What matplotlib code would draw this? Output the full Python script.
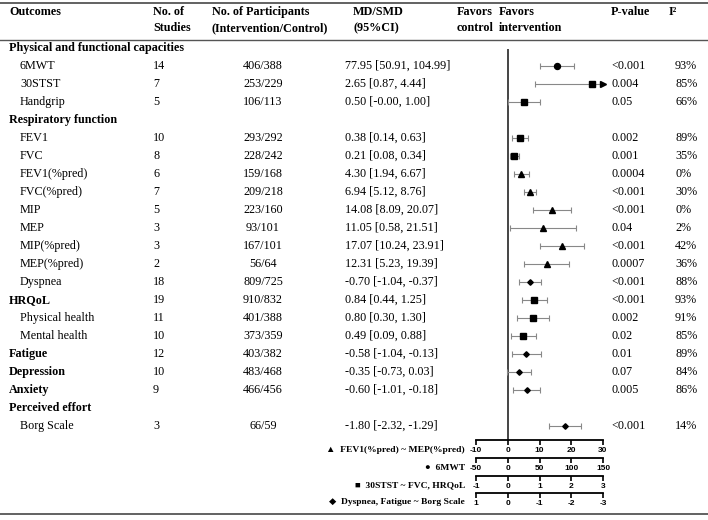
import matplotlib.pyplot as plt

# table data
outcomes = ["Physical and functional capacities", "6MWT", "30STST", "Handgrip",
            "Respiratory function", "FEV1", "FVC", "FEV1(%pred)", "FVC(%pred)",
            "MIP", "MEP", "MIP(%pred)", "MEP(%pred)", "Dyspnea", "HRQoL",
            "Physical health", "Mental health", "Fatigue", "Depression", "Anxiety",
            "Perceived effort", "Borg Scale"]
is_bold = [1, 0, 0, 0, 1, 0, 0, 0, 0, 0, 0, 0, 0, 0, 1, 0, 0, 1, 1, 1, 1, 0]
studies = ["", "14", "7", "5", "", "10", "8", "6", "7", "5", "3", "3", "2", "18",
           "19", "11", "10", "12", "10", "9", "", "3"]
participants = ["", "406/388", "253/229", "106/113", "", "293/292", "228/242",
                "159/168", "209/218", "223/160", "93/101", "167/101", "56/64",
                "809/725", "910/832", "401/388", "373/359", "403/382", "483/468",
                "466/456", "", "66/59"]
effect = [None, 77.95, 2.65, 0.50, None, 0.38, 0.21, 4.30, 6.94, 14.08, 11.05,
          17.07, 12.31, -0.70, 0.84, 0.80, 0.49, -0.58, -0.35, -0.60, None, -1.80]
ci_low = [None, 50.91, 0.87, -0.0, None, 0.14, 0.08, 1.94, 5.12, 8.09, 0.58,
          10.24, 5.23, -1.04, 0.44, 0.30, 0.09, -1.04, -0.73, -1.01, None, -2.32]
ci_high = [None, 104.99, 4.44, 1.00, None, 0.63, 0.34, 6.67, 8.76, 20.07, 21.51,
           23.91, 19.39, -0.37, 1.25, 1.30, 0.88, -0.13, 0.03, -0.18, None, -1.29]
p_values = ["", "<0.001", "0.004", "0.05", "", "0.002", "0.001", "0.0004", "<0.001",
            "<0.001", "0.04", "<0.001", "0.0007", "<0.001", "<0.001", "0.002", "0.02",
            "0.01", "0.07", "0.005", "", "<0.001"]
i2 = ["", "93%", "85%", "66%", "", "89%", "35%", "0%", "30%", "0%", "2%", "42%",
      "36%", "88%", "93%", "91%", "85%", "89%", "84%", "86%", "", "14%"]
# which scale each row is drawn on
scale = [None, "c", "s", "s", None, "s", "s", "t", "t", "t", "t", "t", "t", "d",
         "s", "s", "s", "d", "d", "d", None, "d"]

scale_order = ["t", "c", "s", "d"]
scale_lims = {"t": (-10, 30), "c": (-50, 150), "s": (-1, 3), "d": (1, -3)}
scale_ticks = {"t": [-10, 0, 10, 20, 30], "c": [-50, 0, 50, 100, 150],
               "s": [-1, 0, 1, 2, 3], "d": [1, 0, -1, -2, -3]}
scale_names = {"t": "\u25B2  FEV1(%pred) ~ MEP(%pred)", "c": "\u25CF  6MWT",
               "s": "\u25A0  30STST ~ FVC, HRQoL", "d": "\u25C6  Dyspnea, Fatigue ~ Borg Scale"}
markers = {"t": ("^", 4.0), "c": ("o", 4.3), "s": ("s", 4.4), "d": ("D", 2.8)}

W, H = 708, 520
serif = ["Liberation Serif", "DejaVu Serif"]
fs = 8.7

fig = plt.figure(figsize=(W / 100, H / 100), dpi=100)
ax0 = fig.add_axes([0, 0, 1, 1])
ax0.set_xlim(0, W)
ax0.set_ylim(H, 0)
ax0.axis("off")

# rules
ax0.axhline(3, color="#555555", lw=1.3)
ax0.axhline(39.5, color="#555555", lw=1.0)
ax0.axhline(514, color="#555555", lw=1.3)

# header
hdr = dict(fontsize=fs, fontweight="bold", family=serif, va="center", ha="left")
ax0.text(9, 12, "Outcomes", **hdr)
ax0.text(153, 12, "No. of", **hdr)
ax0.text(153, 28, "Studies", **hdr)
ax0.text(212, 12, "No. of Participants", **hdr)
ax0.text(212, 28, "(Intervention/Control)", **hdr)
ax0.text(353, 12, "MD/SMD", **hdr)
ax0.text(353, 28, "(95%CI)", **hdr)
ax0.text(457, 12, "Favors", **hdr)
ax0.text(457, 28, "control", **hdr)
ax0.text(499, 12, "Favors", **hdr)
ax0.text(499, 28, "intervention", **hdr)
ax0.text(611, 12, "P-value", **hdr)
ax0.text(669, 12, "I\u00B2", **hdr)

row0, step = 48, 18.0
row_y = [row0 + i * step for i in range(len(outcomes))]

body = dict(fontsize=fs, family=serif, va="center")
for i, name in enumerate(outcomes):
    y = row_y[i]
    if is_bold[i]:
        ax0.text(9, y, name, fontweight="bold", ha="left", **body)
    else:
        ax0.text(20, y, name, ha="left", **body)
    ax0.text(153, y, studies[i], ha="left", **body)
    ax0.text(263, y, participants[i], ha="center", **body)
    if effect[i] is not None:
        txt = f"{effect[i]:.2f} [{ci_low[i]:.2f}, {ci_high[i]:.2f}]"
        ax0.text(345, y, txt, ha="left", **body)
    ax0.text(611, y, p_values[i], ha="left", **body)
    ax0.text(675, y, i2[i], ha="left", **body)

# forest axes, one per scale, sharing pixel rows
scale_line = {"t": 440, "c": 458, "s": 475.5, "d": 493}
x_left, x_width = 476, 127
for k in scale_order:
    yl = scale_line[k]
    ax = fig.add_axes([x_left / W, 1 - yl / H, x_width / W, yl / H])
    ax.patch.set_alpha(0)
    ax.set_xlim(*scale_lims[k])
    ax.set_ylim(yl, 0)
    for s in ["top", "left", "right"]:
        ax.spines[s].set_visible(False)
    ax.spines["bottom"].set_linewidth(1.3)
    ax.set_yticks([])
    ax.set_xticks(scale_ticks[k])
    ax.set_xticklabels([str(t) for t in scale_ticks[k]], fontsize=6,
                       fontweight="bold", family="Liberation Sans")
    ax.tick_params(axis="x", direction="out", length=3.5, width=1.2, pad=1.8)
    if k == "t":
        ax.axvline(0, ymin=0, ymax=(yl - 50) / yl, color="#444444", lw=1.4)
    lo_lim, hi_lim = scale_lims[k]
    sign = 1 if hi_lim > lo_lim else -1
    m, ms = markers[k]
    for i in range(len(outcomes)):
        if scale[i] != k:
            continue
        y = row_y[i]
        lo, hi = ci_low[i], ci_high[i]
        over = (hi - hi_lim) * sign > 0
        hi_d = hi_lim if over else hi
        ax.hlines(y, lo, hi_d, color="#888888", lw=0.8)
        ax.plot([lo], [y], marker="|", ms=4, color="#888888", mew=0.8)
        if over:
            ax.plot([hi_d], [y], marker=">", ms=4, color="black", clip_on=False)
        else:
            ax.plot([hi_d], [y], marker="|", ms=4, color="#888888", mew=0.8)
        ax.plot([effect[i]], [y], marker=m, ms=ms, color="black", clip_on=False)

# scale legend
leg_y = {"t": 450, "c": 467.5, "s": 485, "d": 502.5}
for k in scale_order:
    ax0.text(465, leg_y[k], scale_names[k], fontsize=6.8, fontweight="bold",
             family=["Liberation Serif", "DejaVu Sans"], ha="right", va="center")

fig.savefig("out.png", dpi=100)
